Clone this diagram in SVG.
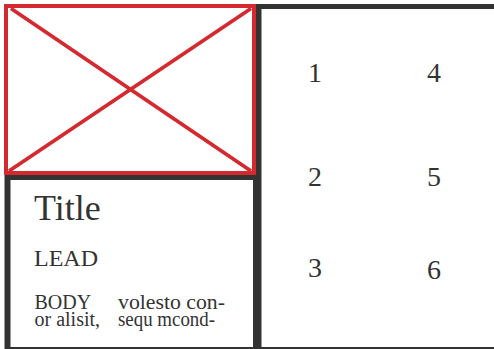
<svg xmlns="http://www.w3.org/2000/svg" width="494" height="349" viewBox="0 0 494 349">
  <style>
    .panel { fill: #ffffff; }
    .txt { font-family: "Liberation Serif", "Times New Roman", serif; fill: #333333; }
    .num { font-family: "Liberation Serif", "Times New Roman", serif; fill: #333333; font-size: 28px; text-anchor: middle; }
    .red { stroke: #d42a2f; fill: none; }
  </style>
  <rect id="frame" x="4.5" y="4" width="489.5" height="345" fill="#333333"/>
  <g id="image">
    <rect x="6" y="6" width="248" height="167" class="red" style="fill:#ffffff" stroke-width="4"/>
    <line class="red" x1="11" y1="8.5" x2="251" y2="171" stroke-width="3.8"/>
    <line class="red" x1="251" y1="8.5" x2="9" y2="171" stroke-width="3.8"/>
  </g>
  <g id="text-panel">
    <rect class="panel" x="10.5" y="180" width="242.5" height="167"/>
    <text class="txt" x="34" y="220" font-size="36">Title</text>
    <text class="txt" x="34" y="266" font-size="24">LEAD</text>
    <text class="txt" x="34.5" y="309" font-size="20">BODY</text>
    <text class="txt" x="34.5" y="326" font-size="20">or alisit,</text>
    <text class="txt" x="118" y="309" font-size="20" textLength="107" lengthAdjust="spacingAndGlyphs">volesto con-</text>
    <text class="txt" x="118" y="326" font-size="20" textLength="97" lengthAdjust="spacingAndGlyphs">sequ mcond-</text>
  </g>
  <g id="grid-panel">
    <rect class="panel" x="261.5" y="9" width="232.5" height="338"/>
    <text class="num" x="315" y="82">1</text>
    <text class="num" x="315" y="185.5">2</text>
    <text class="num" x="315" y="277">3</text>
    <text class="num" x="434" y="82">4</text>
    <text class="num" x="434" y="185.5">5</text>
    <text class="num" x="434" y="278.5">6</text>
  </g>
  <g id="connectors"/>
</svg>
